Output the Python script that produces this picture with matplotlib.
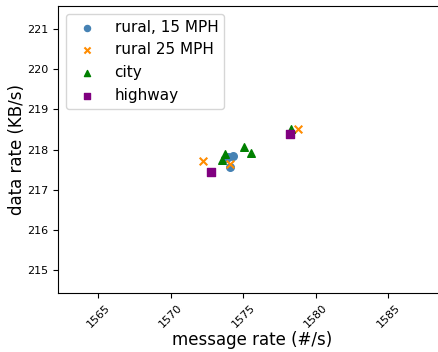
import matplotlib
matplotlib.use("Agg")
from matplotlib import pyplot as plt

# values
rural15_x = [1573.8, 1573.97, 1574.31, 1574.08]
rural15_y = [217.8, 217.81, 217.85, 217.56]
rural25_x = [1572.2, 1574.08, 1578.79]
rural25_y = [217.71, 217.63, 218.51]
city_x = [1573.74, 1573.55, 1575.07, 1575.53, 1578.29]
city_y = [217.89, 217.74, 218.07, 217.91, 218.52]
highway_x = [1572.75, 1578.22]
highway_y = [217.44, 218.39]

fig = plt.figure(figsize=(4.39, 3.52), dpi=100)
# right edge of the axes sits just past the figure, as in the reference
x_lo, x_hi = 1562.22, 1589.0
ax_w = (x_hi - x_lo) * 14.5 / 439
ax = fig.add_axes([58 / 439, 59 / 352, ax_w, 287 / 352])

ax.scatter(rural15_x, rural15_y, color="steelblue", marker="o", s=30, label="rural, 15 MPH")
ax.scatter(rural25_x, rural25_y, color="darkorange", marker="x", s=30, label="rural 25 MPH")
ax.scatter(city_x, city_y, color="green", marker="^", s=30, label="city")
ax.scatter(highway_x, highway_y, color="purple", marker="s", s=30, label="highway")

ax.set_xlim(x_lo, x_hi)
ax.set_ylim(214.44, 221.56)
ax.set_xticks([1565, 1570, 1575, 1580, 1585])
ax.set_yticks([215, 216, 217, 218, 219, 220, 221])
ax.tick_params(axis="x", labelrotation=45, labelsize=8)
ax.tick_params(axis="y", labelsize=8)
ax.set_xlabel("message rate (#/s)", fontsize=12, labelpad=1)
ax.set_ylabel("data rate (KB/s)", fontsize=12, labelpad=1)
ax.legend(loc="upper left", fontsize=11, markerscale=0.8)

fig.savefig("out.png", dpi=100)
